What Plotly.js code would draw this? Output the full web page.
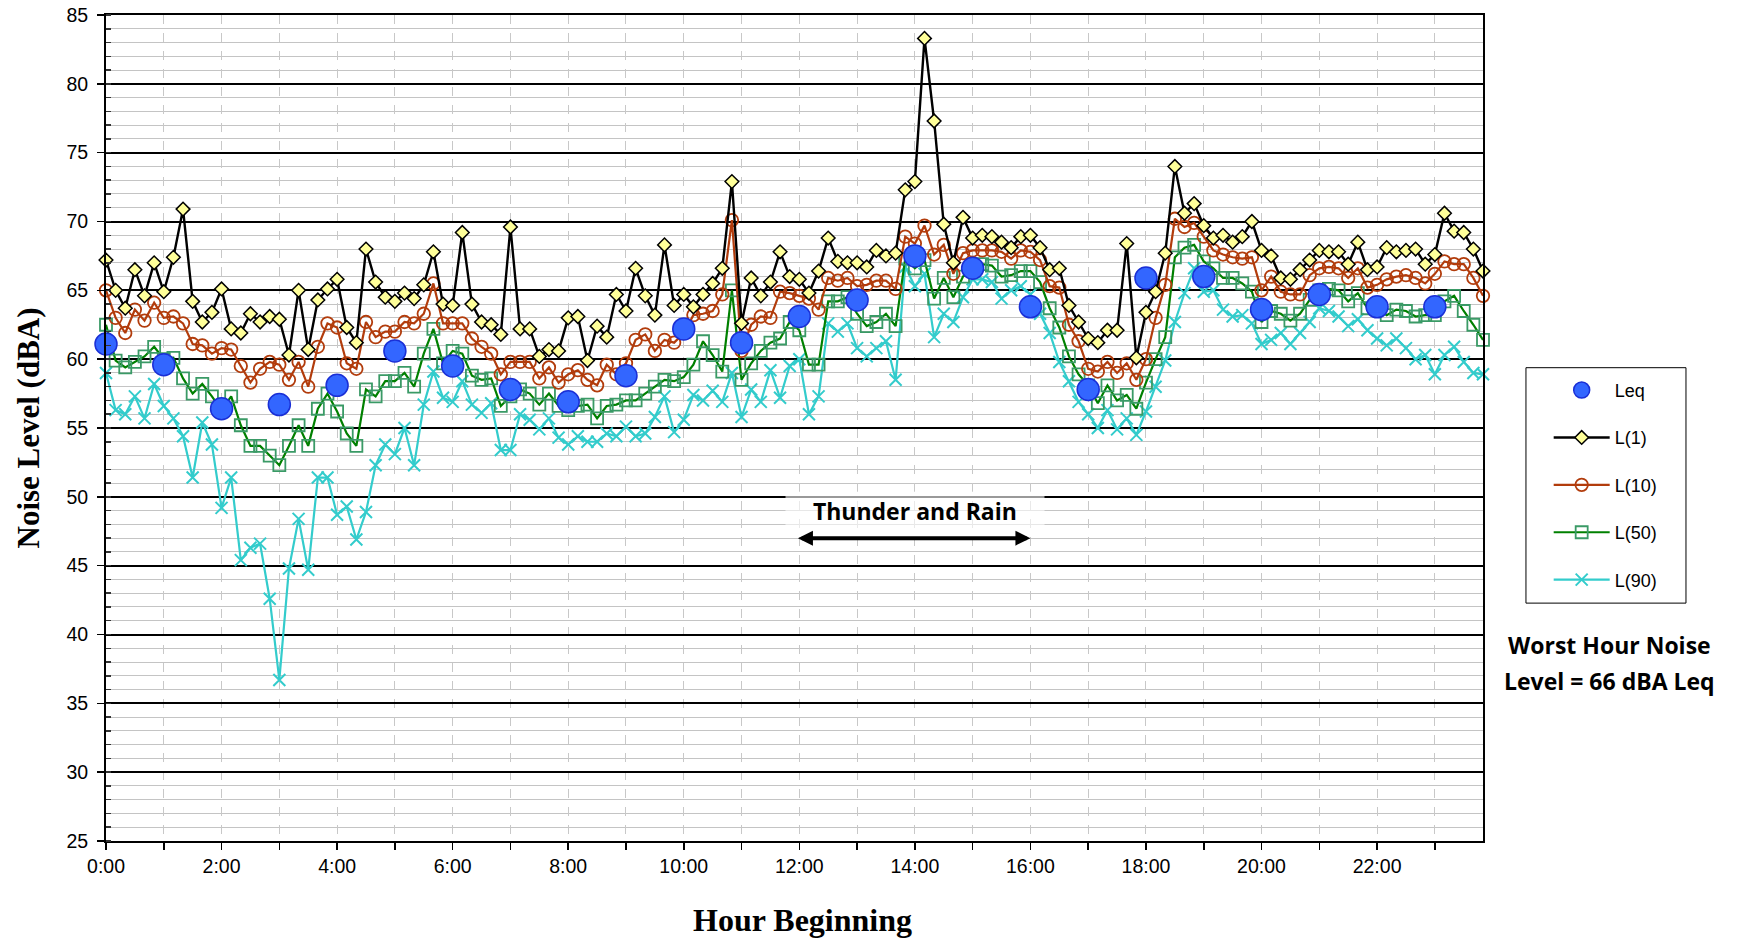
<!DOCTYPE html>
<html><head><meta charset="utf-8">
<script src="https://cdn.plot.ly/plotly-3.0.1.min.js"></script>
<style>html,body{margin:0;padding:0;background:#fff}#chart{width:1742px;height:939px}</style>
</head><body><div id="chart"></div>
<script>
// Hour ticks and labels
const hourTicks = [0,1,2,3,4,5,6,7,8,9,10,11,12,13,14,15,16,17,18,19,20,21,22,23];
const hourLabels = ["0:00","","2:00","","4:00","","6:00","","8:00","","10:00","","12:00","","14:00","","16:00","","18:00","","20:00","","22:00",""];

// Hourly Leq (dBA)
const leq = [61.1,59.6,56.4,56.7,58.1,60.6,59.5,57.8,56.9,58.8,62.2,61.2,63.1,64.3,67.5,66.6,63.8,57.8,65.9,66.0,63.6,64.7,63.8,63.8];

// 10-minute statistical levels (0:00 .. 23:50)
const l1 = [67.2,65.0,63.7,66.5,64.6,67.0,64.9,67.4,70.9,64.2,62.7,63.4,65.1,62.2,61.9,63.3,62.7,63.1,62.9,
 60.3,65.0,60.7,64.3,65.1,65.8,62.3,61.2,68.0,65.6,64.5,64.2,64.8,64.4,65.4,67.8,64.0,63.9,
 69.2,64.0,62.7,62.5,61.8,69.6,62.2,62.2,60.2,60.7,60.6,63.0,63.1,59.9,62.4,61.6,64.7,63.5,
 66.6,64.6,63.2,68.3,63.9,64.7,63.8,64.7,65.5,66.6,72.9,62.6,65.9,64.6,65.6,67.8,66.0,65.8,
 64.8,66.4,68.8,67.1,67.0,67.0,66.7,67.9,67.5,67.7,72.3,72.9,83.3,77.3,69.8,67.0,70.3,68.8,
 69.0,68.9,68.5,68.1,68.9,69.0,68.1,66.5,66.6,63.9,62.7,61.5,61.2,62.1,62.1,68.4,60.1,63.4,
 64.9,67.7,74.0,70.6,71.3,69.7,68.8,69.0,68.5,68.9,70.0,67.9,67.5,65.9,65.8,66.5,67.2,67.9,
 67.8,67.8,66.9,68.5,66.5,66.7,68.1,67.8,67.9,68.0,66.9,67.6,70.6,69.3,69.2,68.0,66.4];
const l10 = [65.0,63.0,61.9,63.6,62.8,64.1,63.0,63.1,62.6,61.1,61.0,60.4,60.8,60.7,59.5,58.3,59.3,59.8,59.6,
 58.5,59.8,58.0,60.9,62.6,62.3,59.7,59.3,62.7,61.6,62.0,62.0,62.7,62.6,63.3,65.5,62.6,62.6,
 62.6,61.5,60.9,60.4,58.9,59.8,59.8,59.8,58.6,59.4,58.3,58.9,59.2,58.5,58.1,59.6,58.9,59.7,
 61.4,61.8,60.6,61.4,61.2,61.9,63.2,63.3,63.5,64.7,70.1,60.6,62.5,63.1,63.0,64.9,64.8,64.6,
 64.4,63.6,65.9,65.7,65.9,65.3,65.4,65.7,65.7,65.1,68.9,68.4,69.7,67.6,68.3,66.2,67.7,67.9,
 67.9,67.9,67.8,67.3,67.9,67.8,67.2,65.3,65.2,62.5,61.3,59.3,59.1,59.8,59.0,59.7,58.5,60.0,
 63.0,65.4,70.2,69.6,69.9,68.9,67.9,67.6,67.4,67.3,67.4,65.0,66.0,64.9,64.7,64.7,66.1,66.6,
 66.7,66.6,65.9,66.6,65.2,65.4,65.8,66.0,66.1,65.9,65.5,66.2,67.1,66.9,66.9,65.9,64.6];
const l50 = [62.5,59.9,59.4,59.8,60.2,60.9,60.0,60.1,58.6,57.5,58.2,57.3,56.3,57.3,55.2,53.7,53.7,53.0,52.3,
 53.7,55.2,53.7,56.4,57.5,56.2,54.6,53.7,57.8,57.3,58.4,58.4,59.0,58.0,60.4,62.2,59.7,60.6,
 60.4,58.8,58.5,58.6,56.6,57.3,57.8,57.5,56.7,57.5,56.6,56.3,56.6,56.7,55.7,56.6,56.7,57.0,
 57.0,57.5,58.0,58.5,58.4,58.7,59.6,61.3,60.3,59.1,65.0,58.5,59.7,60.6,61.2,61.5,62.7,62.1,
 59.6,59.6,64.2,64.2,64.5,63.3,62.4,62.7,63.3,62.4,67.3,66.6,67.2,64.4,65.9,64.5,66.0,66.5,
 66.9,66.8,66.0,66.1,66.4,66.4,65.6,63.7,62.3,60.2,58.9,58.1,56.8,58.1,57.0,57.4,56.4,58.3,
 60.0,61.6,67.4,68.1,68.3,67.1,66.6,65.9,65.9,65.5,64.9,62.7,63.5,63.3,62.8,63.3,64.3,65.0,
 65.1,65.0,64.2,64.8,63.7,63.7,63.2,63.6,63.5,63.1,63.2,63.2,64.2,64.6,63.5,62.5,61.4];
const l90 = [59.0,56.3,56.0,57.3,55.7,58.2,56.6,55.7,54.4,51.4,55.4,53.8,49.2,51.4,45.4,46.3,46.6,42.6,36.7,
 44.8,48.4,44.7,51.4,51.4,48.7,49.3,46.9,48.9,52.3,53.8,53.1,55.0,52.3,56.7,59.1,57.2,56.9,
 58.4,56.7,56.1,56.8,53.4,53.4,56.0,55.6,54.9,55.7,54.3,53.8,54.4,54.0,54.0,54.6,54.4,55.1,
 54.4,54.6,55.8,57.3,54.7,55.6,57.4,57.0,57.7,56.9,59.0,55.8,57.8,56.9,59.2,57.2,59.5,60.0,
 56.0,57.3,62.6,62.0,62.6,60.8,60.2,60.8,61.3,58.5,66.7,65.3,66.2,61.6,63.3,62.7,64.5,65.8,
 65.8,65.6,64.4,65.0,65.3,64.7,63.3,61.9,59.8,58.4,56.9,56.0,55.0,56.3,54.9,55.7,54.5,56.2,
 58.0,59.9,62.7,64.8,66.6,64.9,65.0,63.6,63.1,63.2,62.6,61.1,61.4,61.9,61.1,61.9,62.7,63.7,
 63.5,63.1,62.4,62.9,62.1,61.5,61.0,61.5,60.8,60.0,60.3,58.9,60.3,60.9,59.8,59.0,58.9];

const tenMin = l1.map((_, i) => i / 6);

const traces = [
  {name:'L(90)', x:tenMin, y:l90, type:'scatter', mode:'lines+markers', cliponaxis:false,
   legendrank:5, legendgroup:'g5',
   line:{color:'#33cccc', width:2.2},
   marker:{symbol:'x-thin', size:12, color:'#33cccc', line:{color:'#33cccc', width:2}}},
  {name:'L(50)', x:tenMin, y:l50, type:'scatter', mode:'lines+markers', cliponaxis:false,
   legendrank:4, legendgroup:'g4',
   line:{color:'#008000', width:2.2},
   marker:{symbol:'square-open', size:12, color:'#3a9a66', line:{color:'#3a9a66', width:1.8}}},
  {name:'L(10)', x:tenMin, y:l10, type:'scatter', mode:'lines+markers', cliponaxis:false,
   legendrank:3, legendgroup:'g3',
   line:{color:'#b23c0c', width:2.2},
   marker:{symbol:'circle-open', size:12.5, color:'#b23c0c', line:{color:'#b23c0c', width:1.8}}},
  {name:'L(1)', x:tenMin, y:l1, type:'scatter', mode:'lines+markers', cliponaxis:false,
   legendrank:2, legendgroup:'g2',
   line:{color:'#000000', width:2.4},
   marker:{symbol:'diamond', size:10.5, color:'#ffff99', line:{color:'#000000', width:1.5}}},
  {name:'Leq', x:hourTicks, y:leq, type:'scatter', mode:'markers', cliponaxis:false,
   legendrank:1, legendgroup:'g1',
   marker:{symbol:'circle', size:22, color:'#3366ff', line:{color:'#1a2fd6', width:1.5}}}
];

const bold = 'bold';
const layout = {
  width:1742, height:939,
  margin:{l:106, r:259, t:15, b:98},
  paper_bgcolor:'#ffffff', plot_bgcolor:'#ffffff',
  font:{family:'Liberation Sans, Arial, sans-serif', size:19, color:'#000'},
  showlegend:true,
  legend:{x:1.0477, xanchor:'left', y:0.568, yanchor:'top', traceorder:'grouped',
          tracegroupgap:21, itemwidth:56, bgcolor:'rgba(0,0,0,0)', borderwidth:0,
          font:{family:'Liberation Sans, Arial, sans-serif', size:18}},
  xaxis:{range:[0, 143/6], tickmode:'array', tickvals:hourTicks, ticktext:hourLabels,
         ticks:'outside', ticklen:7, tickwidth:1.5, tickcolor:'#000', ticklabelstandoff:0,
         showgrid:true, gridcolor:'#c8c8c8', griddash:'dash', gridwidth:1,
         showline:true, linecolor:'#000', linewidth:2, mirror:true, zeroline:false,
         tickfont:{size:19.5}},
  yaxis:{range:[25,85], dtick:5, tick0:25, ticks:'outside', ticklen:7, tickwidth:1.5, tickcolor:'#000',
         ticklabelstandoff:5,
         showgrid:true, gridcolor:'#000', gridwidth:2,
         minor:{dtick:1, showgrid:true, gridcolor:'#c4c4c4', gridwidth:1, ticks:'inside', ticklen:5, tickcolor:'#333'},
         showline:true, linecolor:'#000', linewidth:2, mirror:true, zeroline:false,
         tickfont:{size:19.5}},
  shapes:[
    {type:'rect', xref:'paper', yref:'paper', x0:1.0312, x1:1.1474, y0:0.288, y1:0.573,
     line:{color:'#000', width:1}, fillcolor:'rgba(0,0,0,0)'}
  ],
  annotations:[
    {text:'Noise Level (dBA)', xref:'paper', yref:'paper', x:-0.057, y:0.5, textangle:-90,
     showarrow:false, xanchor:'center', yanchor:'middle',
     font:{family:'Liberation Serif, Times New Roman, serif', size:31, color:'#000', weight:bold}},
    {text:'Hour Beginning', xref:'paper', yref:'paper', x:0.506, y:-0.096,
     showarrow:false, xanchor:'center', yanchor:'middle',
     font:{family:'Liberation Serif, Times New Roman, serif', size:32, color:'#000', weight:bold}},
    {text:'&nbsp;&nbsp;&nbsp;&nbsp;Thunder and Rain&nbsp;&nbsp;&nbsp;&nbsp;', xref:'x', yref:'y', x:14.0, y:49.0,
     showarrow:false, xanchor:'center', yanchor:'middle', bgcolor:'rgba(255,255,255,0.6)',
     borderpad:3, font:{family:'Open Sans, sans-serif', size:23, color:'#000', weight:bold}},
    {text:'', xref:'x', yref:'y', axref:'x', ayref:'y', x:16, y:47, ax:11.95, ay:47,
     showarrow:true, arrowhead:2, arrowside:'end+start', arrowwidth:4, arrowsize:0.75, arrowcolor:'#000'},
    {text:'Worst Hour Noise', xref:'paper', yref:'paper', x:1.092, y:0.2374,
     showarrow:false, xanchor:'center', yanchor:'middle',
     font:{family:'Open Sans, sans-serif', size:23, color:'#000', weight:bold}},
    {text:'Level = 66 dBA Leq', xref:'paper', yref:'paper', x:1.092, y:0.1938,
     showarrow:false, xanchor:'center', yanchor:'middle',
     font:{family:'Open Sans, sans-serif', size:23, color:'#000', weight:bold}}
  ]
};

Plotly.newPlot('chart', traces, layout, {displayModeBar:false, staticPlot:true});
</script></body></html>
